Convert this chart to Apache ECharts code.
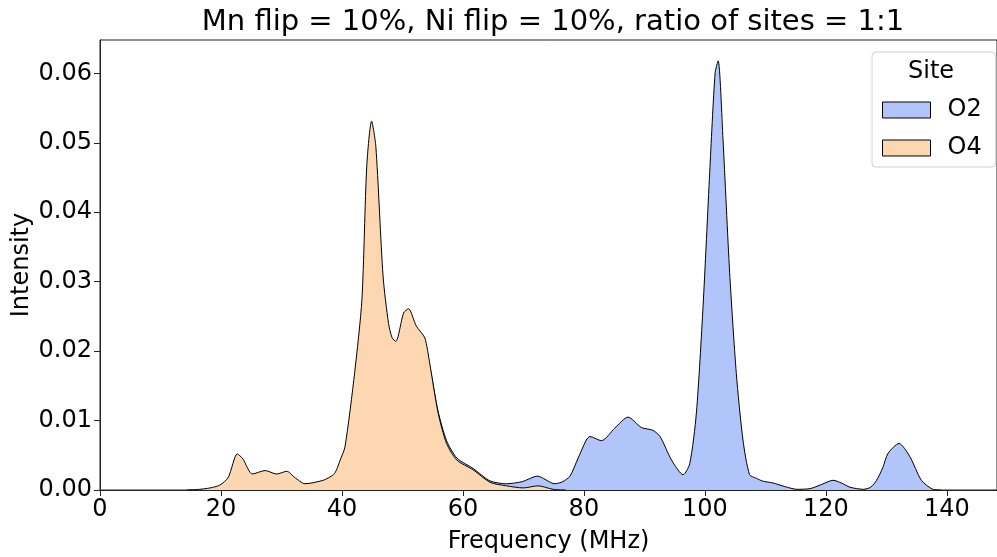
<!DOCTYPE html>
<html>
<head>
<meta charset="utf-8">
<script src="https://cdn.jsdelivr.net/npm/echarts@6/dist/echarts.min.js"></script>
<style>
html,body{margin:0;padding:0;background:#fff;}
#main{width:997px;height:557px;}
</style>
</head>
<body>
<div id="main"></div>
<script>
// ---- data ----
const titleText = 'Mn flip = 10%, Ni flip = 10%, ratio of sites = 1:1';
const seriesNames = ['O2', 'O4'];
const legendTitle = 'Site';
const xTicks = [0, 20, 40, 60, 80, 100, 120, 140];
const yTicks = [0.00, 0.01, 0.02, 0.03, 0.04, 0.05, 0.06];

const freqO4 = [14.4, 16.5, 18.2, 19.8, 21.2, 22.7, 23.6, 25.2, 27.3, 29.2, 30.9, 32.2, 33.9, 36.9, 38.6, 39.1, 39.7, 40.5, 42.1, 43.3, 44.1, 44.9, 45.6, 46.8, 47.7, 48.3, 48.9, 50.2, 51.0, 52.3, 53.7, 54.5, 55.9, 57.3, 59.0, 61.7, 64.5, 67.2, 70.0, 72.4, 74.9, 77.0];
const intenO4 = [0.0000, 0.0001, 0.0003, 0.0007, 0.0018, 0.0052, 0.0045, 0.0023, 0.0028, 0.0023, 0.0027, 0.0018, 0.0009, 0.0014, 0.0022, 0.0029, 0.0043, 0.0062, 0.0169, 0.0274, 0.0466, 0.0531, 0.0495, 0.0308, 0.0240, 0.0219, 0.0214, 0.0255, 0.0261, 0.0236, 0.0219, 0.0183, 0.0111, 0.0067, 0.0043, 0.0029, 0.0011, 0.0006, 0.0003, 0.0006, 0.0001, 0.0000];

const freqO2 = [50.2, 53.7, 54.5, 55.9, 57.3, 59.0, 61.7, 64.5, 67.2, 69.8, 72.3, 75.2, 76.5, 77.7, 79.0, 80.4, 81.0, 82.9, 85.1, 87.3, 89.5, 91.4, 92.6, 94.5, 96.4, 97.5, 98.6, 99.7, 100.8, 101.7, 102.2, 103.0, 104.1, 105.2, 106.3, 107.4, 108.5, 109.5, 111.3, 113.2, 115.2, 117.4, 119.3, 121.2, 122.6, 124.0, 126.2, 127.4, 128.4, 129.4, 130.3, 132.1, 133.9, 135.8, 137.7, 139.0];
const intenO2 = [0.0000, 0.0200, 0.0178, 0.0113, 0.0071, 0.0046, 0.0031, 0.0013, 0.0009, 0.0012, 0.0020, 0.0009, 0.0012, 0.0020, 0.0045, 0.0072, 0.0077, 0.0071, 0.0089, 0.0105, 0.0090, 0.0086, 0.0077, 0.0043, 0.0022, 0.0038, 0.0111, 0.0264, 0.0457, 0.0601, 0.0618, 0.0505, 0.0313, 0.0168, 0.0072, 0.0022, 0.0017, 0.0013, 0.0010, 0.0005, 0.0001, 0.0002, 0.0008, 0.0014, 0.0010, 0.0004, 0.0001, 0.0004, 0.0014, 0.0032, 0.0053, 0.0067, 0.0048, 0.0014, 0.0001, 0.0000];

// ---- chart ----
const colorO2 = '#b1c5fa';
const colorO4 = '#fdd7b1';
const font = 'DejaVu Sans';
const pairs = (xs, ys) => xs.map((x, i) => [x, ys[i]]);

const chart = echarts.init(document.getElementById('main'), null, {renderer: 'canvas'});
chart.setOption({
  animation: false,
  backgroundColor: '#fff',
  textStyle: {fontFamily: font},
  title: {
    text: titleText,
    left: 548, textAlign: 'center', top: 3,
    textStyle: {fontFamily: font, fontSize: 29, fontWeight: 'normal', color: '#000'}
  },
  grid: {left: 100, right: 0, top: 40, bottom: 67, show: true, borderColor: '#222', borderWidth: 1,
    backgroundColor: 'transparent', containLabel: false, outerBoundsMode: 'none'},
  xAxis: {
    type: 'value', min: 0, max: 148.3, interval: 20,
    name: 'Frequency (MHz)', nameLocation: 'middle', nameGap: 40,
    nameTextStyle: {fontFamily: font, fontSize: 24, color: '#000'},
    axisLine: {show: true, lineStyle: {color: '#222', width: 1}},
    axisTick: {show: true, length: 6, lineStyle: {color: '#222'}, customValues: xTicks},
    axisLabel: {fontFamily: font, fontSize: 24, color: '#000', margin: 8, customValues: xTicks,
      formatter: v => String(v)},
    splitLine: {show: false}
  },
  yAxis: {
    type: 'value', min: 0, max: 0.0648, interval: 0.01,
    name: 'Intensity', nameLocation: 'middle', nameGap: 66, nameMoveOverlap: false,
    nameTextStyle: {fontFamily: font, fontSize: 24, color: '#000'},
    axisLine: {show: true, lineStyle: {color: '#222', width: 1}},
    axisTick: {show: true, length: 6, lineStyle: {color: '#222'}, customValues: yTicks},
    axisLabel: {fontFamily: font, fontSize: 24, color: '#000', margin: 8, customValues: yTicks,
      formatter: v => v.toFixed(2)},
    splitLine: {show: false}
  },
  legend: {
    orient: 'vertical', left: 872, top: 52,
    width: 100,
    padding: [46, 14, 7, 10],
    borderColor: '#d0d0d0', borderWidth: 1, borderRadius: 4,
    backgroundColor: '#fff',
    icon: 'rect', itemWidth: 48, itemHeight: 16, itemGap: 14,
    textStyle: {fontFamily: font, fontSize: 24, color: '#000', lineHeight: 22, padding: [0, 0, 0, 12]},
    data: [
      {name: seriesNames[0], itemStyle: {color: colorO2, borderColor: '#000', borderWidth: 1}},
      {name: seriesNames[1], itemStyle: {color: colorO4, borderColor: '#000', borderWidth: 1}}
    ]
  },
  graphic: [{
    type: 'text', left: 908, top: 60, z: 100,
    style: {text: legendTitle, font: '24px "DejaVu Sans"', fill: '#000'}
  }],
  series: [
    {
      name: seriesNames[0], type: 'line', data: pairs(freqO2, intenO2),
      smooth: 0.25, showSymbol: false, z: 2,
      itemStyle: {color: colorO2},
      lineStyle: {color: '#000', width: 1},
      areaStyle: {color: colorO2, opacity: 1}
    },
    {
      name: seriesNames[1], type: 'line', data: pairs(freqO4, intenO4),
      smooth: 0.25, showSymbol: false, z: 3,
      itemStyle: {color: colorO4},
      lineStyle: {color: '#000', width: 1},
      areaStyle: {color: colorO4, opacity: 1}
    }
  ]
});
</script>
</body>
</html>
